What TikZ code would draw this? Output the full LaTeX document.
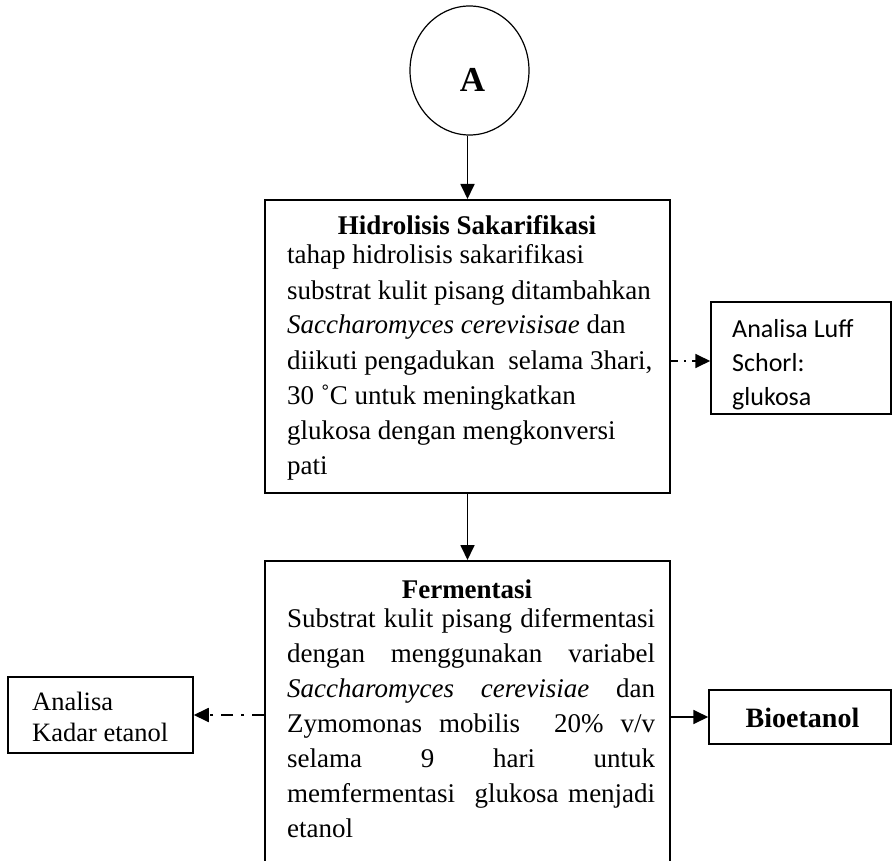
\documentclass[tikz,border=0pt]{standalone}
\usepackage{fontspec}
\setmainfont{Liberation Serif}
\newfontfamily\calib{Carlito}
\usetikzlibrary{arrows.meta,shapes.geometric}
\begin{document}
\begin{tikzpicture}[x=1pt,y=-1pt,
  box/.style={draw,line width=2pt,rectangle,inner sep=0pt},
  sbox/.style={draw,line width=1.5pt,rectangle,inner sep=0pt},
  txt/.style={anchor=base west,inner sep=0pt,font=\fontsize{27}{35}\selectfont},
  ttl/.style={anchor=base,inner sep=0pt,font=\fontsize{27}{35}\selectfont\bfseries},
  arr/.style={line width=1.8pt,-{Triangle[length=15pt,width=14pt]}},
  darr/.style={arr,dash pattern=on 7pt off 6pt on 2pt off 6pt},
  larr/.style={arr,dash pattern=on 12pt off 8pt on 3pt off 8pt}]
\useasboundingbox (0,0) rectangle (892,861);
\clip (0,0) rectangle (892,861);
% circle A
\node[draw,ellipse,line width=1.2pt,minimum width=119pt,minimum height=129pt,inner sep=0pt] (A) at (469.5,70.5) {};
\node[anchor=base,inner sep=0pt,font=\fontsize{35}{40}\selectfont\bfseries] (Atxt) at (472.5,92) {A};
% Hidrolisis box
\node[box,minimum width=405pt,minimum height=293pt] (hidro) at (467.5,346.5) {};
\node[ttl] (htitle) at (467,235) {Hidrolisis Sakarifikasi};
\foreach \t [count=\i] in {{tahap hidrolisis sakarifikasi},{substrat kulit pisang ditambahkan},{\textit{Saccharomyces cerevisisae} dan},{diikuti pengadukan\ \ selama 3hari,},{30 ˚C untuk meningkatkan},{glukosa dengan mengkonversi},{pati}}
  \node[txt] (h\i) at (287,{264+35*(\i-1)}) {\t};
% Fermentasi box
\node[box,minimum width=405pt,minimum height=340pt] (ferm) at (467.5,731) {};
\node[ttl] (ftitle) at (467,598) {Fermentasi};
\foreach \t [count=\i] in {{Substrat kulit pisang difermentasi},{dengan menggunakan variabel},{\textit{Saccharomyces} \textit{cerevisiae} dan},{Zymomonas mobilis\ \ 20\% v/v},{selama 9 hari untuk},{memfermentasi\ \ glukosa menjadi}}
  \node[txt] (f\i) at (287,{627+35*(\i-1)}) {\makebox[368pt][s]{\t}};
\node[txt] (f7) at (287,837) {etanol};
% Luff box
\node[sbox,minimum width=180pt,minimum height=112pt] (luff) at (801,358) {};
\foreach \t [count=\i] in {{Analisa Luff},{Schorl:},{glukosa}}
  \node[anchor=base west,inner sep=0pt,font=\calib\fontsize{26}{34}\selectfont] (l\i) at (732,{337+34*(\i-1)}) {\t};
% Kadar box
\node[sbox,minimum width=185pt,minimum height=76pt] (kadar) at (100.5,715) {};
\node[anchor=base west,inner sep=0pt,font=\fontsize{26.5}{31}\selectfont] (k1) at (32,710) {Analisa};
\node[anchor=base west,inner sep=0pt,font=\fontsize{26.5}{31}\selectfont] (k2) at (32,741) {Kadar etanol};
% Bioetanol box
\node[sbox,minimum width=182pt,minimum height=54pt] (bio) at (800,717) {};
\node[anchor=base,inner sep=0pt,font=\fontsize{28}{34}\selectfont\bfseries] (biot) at (802.5,727) {Bioetanol};
% connectors
\coordinate (ly) at (0,361);
\draw[arr] (A.south -| hidro.north) -- (hidro.north);
\draw[arr] (hidro.south) -- (ferm.north);
\draw[darr] (hidro.east |- ly) -- (luff.west |- ly);
\draw[larr] (ferm.west |- kadar.east) -- (kadar.east);
\draw[arr] (ferm.east |- bio.west) -- (bio.west);
\end{tikzpicture}
\end{document}
